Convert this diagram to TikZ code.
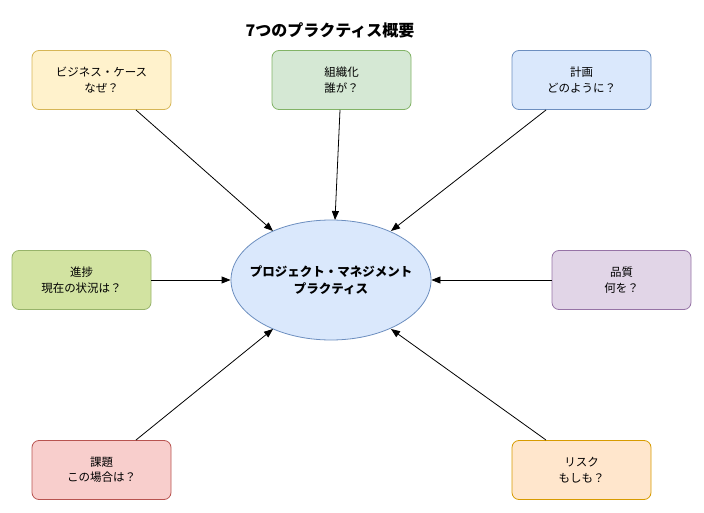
\documentclass[tikz,border=0pt]{standalone}
\usepackage{fontspec}
\setmainfont{Noto Sans CJK JP}
\usetikzlibrary{arrows.meta,shapes.geometric}
\definecolor{yfill}{HTML}{FFF2CC}\definecolor{ydraw}{HTML}{D6B656}
\definecolor{gfill}{HTML}{D5E8D4}\definecolor{gdraw}{HTML}{82B366}
\definecolor{bfill}{HTML}{DAE8FC}\definecolor{bdraw}{HTML}{6C8EBF}
\definecolor{lfill}{HTML}{D2E3A1}\definecolor{ldraw}{HTML}{97B36A}
\definecolor{pfill}{HTML}{E1D5E7}\definecolor{pdraw}{HTML}{9673A6}
\definecolor{rfill}{HTML}{F8CECC}\definecolor{rdraw}{HTML}{B85450}
\definecolor{ofill}{HTML}{FFE6CC}\definecolor{odraw}{HTML}{D79B00}
\tikzset{
  box/.style={rounded corners=7pt,minimum width=139pt,minimum height=59pt,align=center,font=\fontsize{11.5}{15.5}\selectfont,line width=0.8pt,inner sep=0pt},
  conn/.style={-{Stealth[length=9pt,width=7pt,inset=0pt]},line width=0.8pt,black}
}
\begin{document}
\begin{tikzpicture}[x=1pt,y=-1pt]
\useasboundingbox (0,0) rectangle (704,513);
\node[font=\fontsize{16}{19}\selectfont\bfseries] (title) at (330,30) {7つのプラクティス概要};
\node[ellipse,draw=bdraw,fill=bfill,line width=0.8pt,minimum width=200pt,minimum height=120pt,inner sep=0pt] (c) at (331,280) {};
\node[align=center,font=\fontsize{12.5}{17}\selectfont\bfseries] (clabel) at (c.center) {プロジェクト・マネジメント\\プラクティス};
\node[box,draw=ydraw,fill=yfill] (bc) at (101.5,80) {ビジネス・ケース\\なぜ？};
\node[box,draw=gdraw,fill=gfill] (org) at (341.5,80) {組織化\\誰が？};
\node[box,draw=bdraw,fill=bfill] (plan) at (581.5,80) {計画\\どのように？};
\node[box,draw=ldraw,fill=lfill] (prog) at (81.5,280) {進捗\\現在の状況は？};
\node[box,draw=pdraw,fill=pfill] (qual) at (621.5,280) {品質\\何を？};
\node[box,draw=rdraw,fill=rfill] (iss) at (101.5,470) {課題\\この場合は？};
\node[box,draw=odraw,fill=ofill] (risk) at (581.5,470) {リスク\\もしも？};
\coordinate (bcs) at (136,110); \coordinate (bce) at (273,231);
\coordinate (orgs) at (340,110); \coordinate (orge) at (335,220);
\coordinate (plans) at (546,110); \coordinate (plane) at (391,231);
\coordinate (isss) at (136,440); \coordinate (isse) at (273,329);
\coordinate (risks) at (546,440); \coordinate (riske) at (391,329);
\draw[conn] (bcs) -- (bce);
\draw[conn] (orgs) -- (orge);
\draw[conn] (plans) -- (plane);
\draw[conn] (prog.east) -- (c.west);
\draw[conn] (qual.west) -- (c.east);
\draw[conn] (isss) -- (isse);
\draw[conn] (risks) -- (riske);
\end{tikzpicture}
\end{document}
